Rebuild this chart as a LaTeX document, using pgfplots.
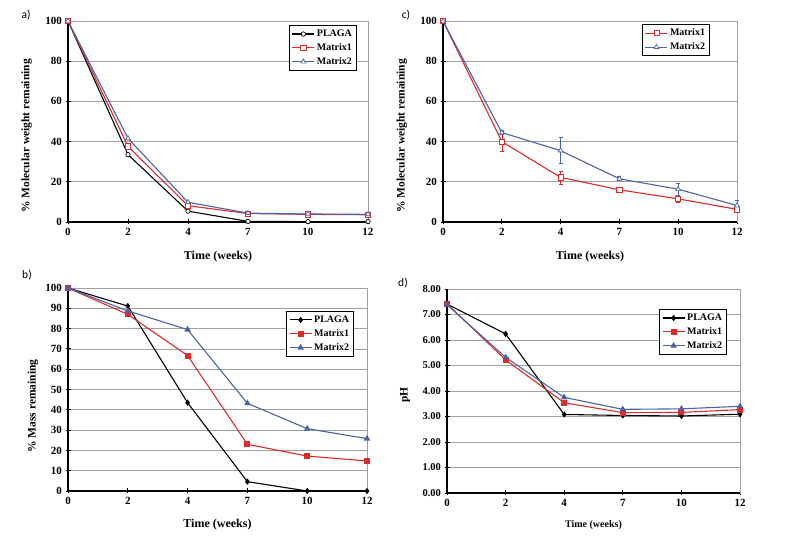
\documentclass[border=0pt]{standalone}
\usepackage{fontspec}
\setmainfont{Liberation Serif}
\newfontfamily\lblfont{Carlito}
\usepackage{pgfplots}
\pgfplotsset{compat=1.18}
\definecolor{mred}{HTML}{DD2A2A}
\definecolor{mblue}{HTML}{4A62AA}
\definecolor{gridc}{HTML}{A0A0A0}
\tikzset{blk/.style={black, line width=1.2pt}}

\pgfplotsset{
  panel/.style={
    scale only axis,
    xmin=0, xmax=5, xtick={0,...,5}, xticklabels={0,2,4,7,10,12},
    ymin=0,
    axis line style={gridc, line width=0.7pt},
    ymajorgrids, grid style={gridc, line width=0.7pt},
    tick align=center, xtick pos=bottom, ytick pos=left,
    major tick length=5pt,
    tick style={black, line width=0.9pt},
    tick label style={font=\bfseries\fontsize{11}{13}\selectfont},
    /pgf/number format/assume math mode=true,
    label style={font=\bfseries\fontsize{11.5}{13}\selectfont},
    xlabel={Time (weeks)},
    xlabel style={font=\bfseries\fontsize{12}{14}\selectfont},
    legend cell align=left,
    legend style={draw=black, line width=0.9pt, font=\bfseries\fontsize{10}{12}\selectfont,
      inner sep=2.5pt, row sep=1.5pt, anchor=north east},
    legend image code/.code={\draw[mark repeat=2,mark phase=2]
      plot coordinates {(0pt,0pt) (11pt,0pt) (22pt,0pt)};},
    every axis plot/.append style={line width=1.1pt},
    clip=false,
  },
}

\begin{document}
\begin{tikzpicture}[x=1pt,y=1pt]
\path[use as bounding box] (0pt,0pt) rectangle (800pt,540pt);

% a) molecular weight
\begin{axis}[panel, at={(68pt,318pt)}, anchor=south west, width=300pt, height=201pt,
  ymax=100, ytick={0,20,...,100},
  ylabel={\% Molecular weight remaining},
  ylabel style={at={(axis description cs:-0.138,0.428)}, anchor=center},
  xlabel style={at={(axis description cs:0.5,-0.174)}, anchor=center},
  legend style={at={(axis description cs:0.963,0.98)}}]
\draw[blk] (rel axis cs:0,1) -- (rel axis cs:0,0) -- (rel axis cs:1,0);
\addplot[black, mark=*, mark size=2.2pt, mark options={fill=white, line width=0.7pt}]
  coordinates {(0,100) (1,33.5) (2,5.4) (3,0.3) (4,0.2) (5,0.2)};
\addplot[mred, mark=square*, mark size=2.6pt, mark options={fill=white, line width=0.7pt}]
  coordinates {(0,100) (1,37.6) (2,8.1) (3,4.2) (4,3.8) (5,3.6)};
\addplot[mblue, mark=triangle*, mark size=2.8pt, mark options={fill=white, line width=0.7pt}]
  coordinates {(0,100) (1,41.6) (2,9.8) (3,4.4) (4,4.0) (5,3.8)};
\legend{PLAGA, Matrix1, Matrix2}
\end{axis}

% c) molecular weight with error bars
\begin{axis}[panel, at={(443pt,318pt)}, anchor=south west, width=294pt, height=201pt,
  ymax=100, ytick={0,20,...,100},
  ylabel={\% Molecular weight remaining},
  ylabel style={at={(axis description cs:-0.14,0.428)}, anchor=center},
  xlabel style={at={(axis description cs:0.5,-0.174)}, anchor=center},
  legend style={at={(axis description cs:0.908,0.985)}}]
\draw[blk] (rel axis cs:0,1) -- (rel axis cs:0,0) -- (rel axis cs:1,0);
\addplot[mred, mark=square*, mark size=2.6pt, mark options={fill=white, line width=0.7pt},
  error bars/.cd, y dir=both, y explicit,
  error bar style={line width=0.6pt}, error mark options={rotate=90, mark size=2pt, line width=0.6pt}]
  coordinates {(0,100) +- (0,0) (1,40) +- (0,5) (2,22.2) +- (0,3.2)
               (3,16) +- (0,0.6) (4,11.5) +- (0,1.5) (5,6.3) +- (0,1)};
\addplot[mblue, mark=triangle*, mark size=2.8pt, mark options={fill=white, line width=0.7pt},
  error bars/.cd, y dir=both, y explicit,
  error bar style={line width=0.6pt}, error mark options={rotate=90, mark size=2pt, line width=0.6pt}]
  coordinates {(0,100) +- (0,0) (1,44.5) +- (0,1) (2,35.5) +- (0,6.5)
               (3,21.5) +- (0,1) (4,16.3) +- (0,3) (5,8.2) +- (0,2.5)};
\legend{Matrix1, Matrix2}
\end{axis}

% b) mass remaining
\begin{axis}[panel, at={(68pt,49pt)}, anchor=south west, width=299pt, height=203pt,
  ymax=100, ytick={0,10,...,100},
  ylabel={\% Mass remaining},
  ylabel style={at={(axis description cs:-0.117,0.419)}, anchor=center},
  xlabel style={at={(axis description cs:0.5,-0.167)}, anchor=center},
  legend style={at={(axis description cs:0.957,0.887)}}]
\draw[blk] (rel axis cs:0,1) -- (rel axis cs:0,0) -- (rel axis cs:1,0);
\addplot[black, mark=diamond*, mark size=2.3pt]
  coordinates {(0,100) (1,91.1) (2,43.5) (3,4.6) (4,0) (5,0)};
\addplot[mred, mark=square*, mark size=2.4pt]
  coordinates {(0,100) (1,87) (2,66.7) (3,23) (4,17.2) (5,14.8)};
\addplot[mblue, mark=triangle*, mark size=2.7pt]
  coordinates {(0,100) (1,88.7) (2,79.5) (3,43.2) (4,30.7) (5,25.8)};
\legend{PLAGA, Matrix1, Matrix2}
\end{axis}

% d) pH
\begin{axis}[panel, at={(447pt,47pt)}, anchor=south west, width=293pt, height=204pt,
  ymax=8, ytick={0,1,...,8},
  y tick label style={font=\bfseries\fontsize{10.5}{12}\selectfont,
    /pgf/number format/fixed, /pgf/number format/fixed zerofill,
    /pgf/number format/precision=2},
  ylabel={pH},
  ylabel style={at={(axis description cs:-0.143,0.48)}, anchor=center},
  xlabel style={at={(axis description cs:0.5,-0.157)}, anchor=center,
    font=\bfseries\fontsize{10}{12}\selectfont},
  legend style={at={(axis description cs:0.956,0.902)}}]
\draw[blk] (rel axis cs:0,1) -- (rel axis cs:0,0) -- (rel axis cs:1,0);
\addplot[black, mark=diamond*, mark size=2.3pt]
  coordinates {(0,7.41) (1,6.24) (2,3.08) (3,3.04) (4,3.02) (5,3.09)};
\addplot[mred, mark=square*, mark size=2.4pt]
  coordinates {(0,7.42) (1,5.22) (2,3.54) (3,3.15) (4,3.16) (5,3.27)};
\addplot[mblue, mark=triangle*, mark size=2.7pt]
  coordinates {(0,7.38) (1,5.32) (2,3.75) (3,3.28) (4,3.30) (5,3.40)};
\legend{PLAGA, Matrix1, Matrix2}
\end{axis}

\node[font=\lblfont\fontsize{11.5}{13}\selectfont] at (26pt,525pt) {a)};
\node[font=\lblfont\fontsize{11.5}{13}\selectfont] at (406pt,525pt) {c)};
\node[font=\lblfont\fontsize{11.5}{13}\selectfont] at (27pt,265pt) {b)};
\node[font=\lblfont\fontsize{11.5}{13}\selectfont] at (403pt,257pt) {d)};
\end{tikzpicture}
\end{document}
